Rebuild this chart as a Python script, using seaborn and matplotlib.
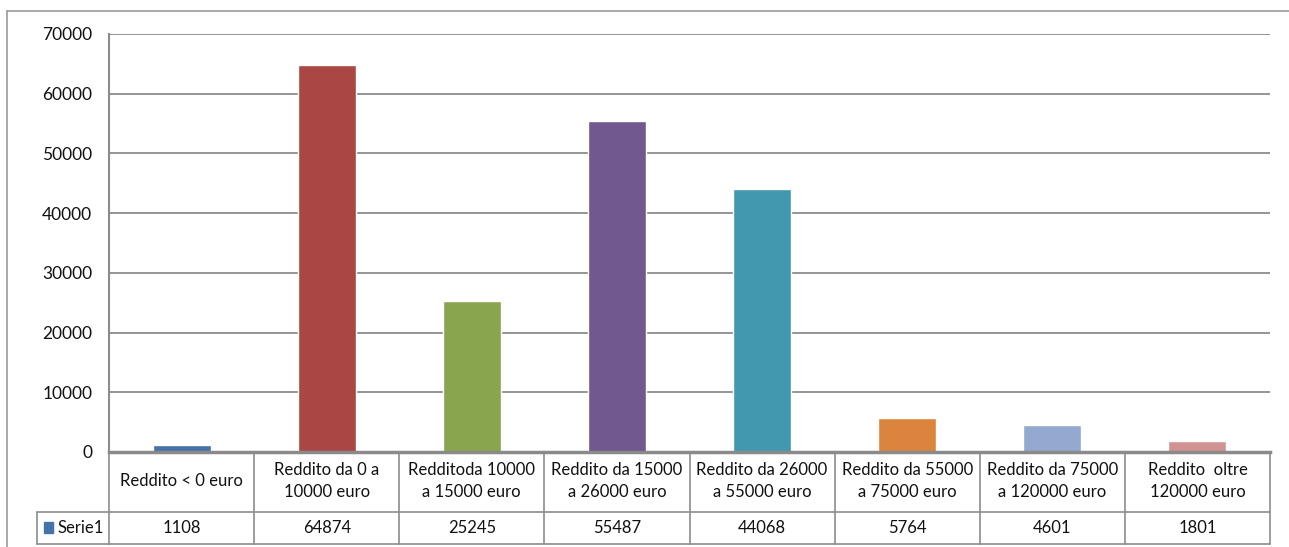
import matplotlib
matplotlib.use("Agg")
import matplotlib.pyplot as plt
from matplotlib.lines import Line2D
from matplotlib.patches import Rectangle
import seaborn as sns
import pandas as pd

categories = [
    "Reddito < 0 euro",
    "Reddito da 0 a\n10000 euro",
    "Redditoda 10000\na 15000 euro",
    "Reddito da 15000\na 26000 euro",
    "Reddito da 26000\na 55000 euro",
    "Reddito da 55000\na 75000 euro",
    "Reddito da 75000\na 120000 euro",
    "Reddito  oltre\n120000 euro",
]
values = [1108, 64874, 25245, 55487, 44068, 5764, 4601, 1801]
series_name = "Serie1"
yticks = [0, 10000, 20000, 30000, 40000, 50000, 60000, 70000]

colors = ["#4672AA", "#AA4644", "#89A54E", "#71588F",
          "#4198AF", "#DB843D", "#93A9CF", "#D19392"]

sns.set_style("white")
plt.rcParams["font.family"] = ["Lato", "DejaVu Sans"]

W, H = 1289, 547
fig = plt.figure(figsize=(W / 100, H / 100), dpi=100)
L, R, T, B = 109, 1270, 34, 452
ax = fig.add_axes([L / W, 1 - B / H, (R - L) / W, (B - T) / H])

df = pd.DataFrame({"cat": categories, "val": values})
sns.barplot(data=df, x="cat", y="val", hue="cat", palette=colors,
            width=0.4, legend=False, ax=ax, saturation=1)

ax.set_xlim(-0.5, len(categories) - 0.5)
ax.set_ylim(0, 70000)
ax.set_yticks(yticks)
ax.set_yticklabels([str(v) for v in yticks], fontsize=12.5, color="#111111")
ax.set_xticks([])
ax.set_xlabel("")
ax.set_ylabel("")
ax.tick_params(axis="y", length=0, pad=12)
ax.yaxis.grid(True, color="#8c8c8c", linewidth=1.3)
ax.set_axisbelow(True)
for s in ["top", "right"]:
    ax.spines[s].set_visible(False)
ax.spines["left"].set_color("#8c8c8c")
ax.spines["left"].set_linewidth(1.5)
ax.spines["bottom"].set_color("#8a8a8a")
ax.spines["bottom"].set_linewidth(2.5)
ax.spines["bottom"].set_zorder(5)

# data table below the axis
trans = ax.get_xaxis_transform()
row_mid = (B - 512) / (B - T)
tab_bot = (B - 544) / (B - T)
hdr_y = (B - 481) / (B - T)
val_y = (B - 528) / (B - T)
line_kw = dict(color="#8c8c8c", linewidth=1.2, clip_on=False)
n = len(categories)
for k in range(n + 1):
    ax.plot([k - 0.5, k - 0.5], [0, tab_bot], transform=trans, **line_kw)
ax.plot([-0.5, n - 0.5], [tab_bot, tab_bot], transform=trans, **line_kw)
ax.plot([-0.5, n - 0.5], [row_mid, row_mid], transform=trans, **line_kw)
for i, (c, v) in enumerate(zip(categories, values)):
    ax.text(i, hdr_y, c, transform=trans, ha="center", va="center",
            fontsize=12, linespacing=1.5, color="#111111")
    ax.text(i, val_y, str(v), transform=trans, ha="center", va="center",
            fontsize=12, color="#111111")

# legend cell of the table
fx = lambda px: px / W
fy = lambda py: 1 - py / H
fig.add_artist(Line2D([fx(37), fx(L)], [fy(512), fy(512)], color="#8c8c8c", lw=1.2))
fig.add_artist(Line2D([fx(37), fx(L)], [fy(544), fy(544)], color="#8c8c8c", lw=1.2))
fig.add_artist(Line2D([fx(37), fx(37)], [fy(512), fy(544)], color="#8c8c8c", lw=1.2))
fig.add_artist(Rectangle((fx(44), fy(533)), fx(9), 11 / H, color=colors[0]))
fig.text(fx(58), fy(528), series_name, ha="left", va="center", fontsize=12, color="#111111")

# chart border
fig.add_artist(Line2D([fx(7), fx(W)], [fy(11), fy(11)], color="#9a9a9a", lw=1.2))
fig.add_artist(Line2D([fx(7), fx(7)], [fy(11), fy(H)], color="#9a9a9a", lw=1.2))

fig.savefig("out.png", dpi=100)
